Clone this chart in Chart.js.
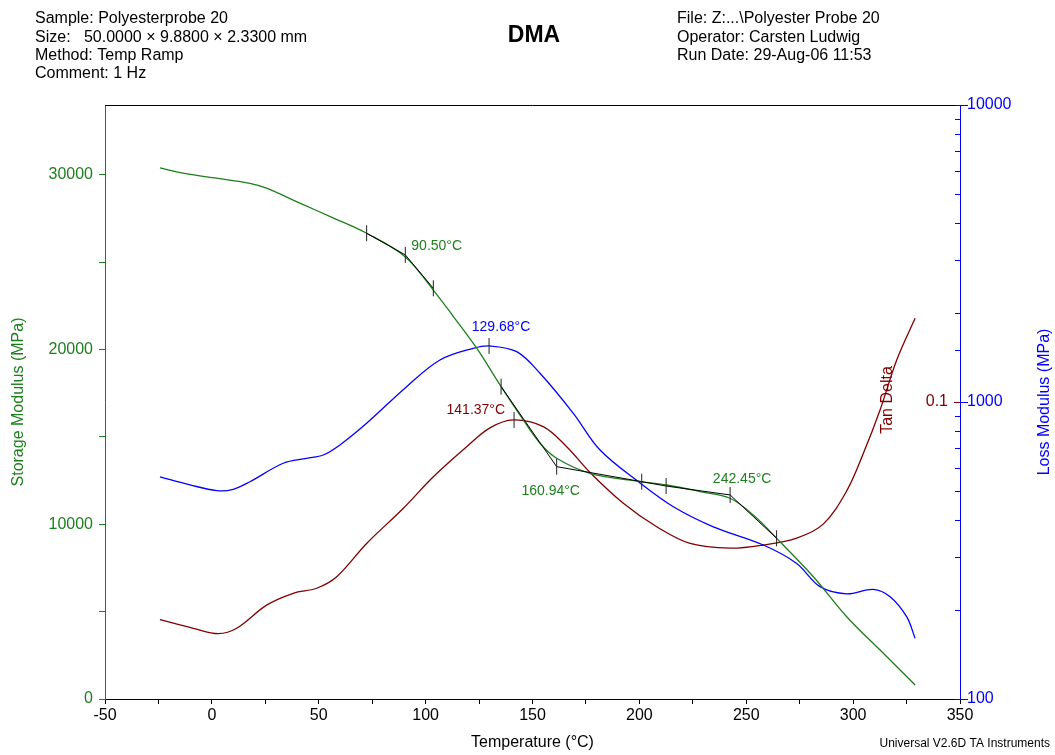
<!DOCTYPE html>
<html lang="en">
<head>
<meta charset="UTF-8">
<title>DMA</title>
<style>
    body { margin: 0; background: #fff; }
    #chart-container { width: 1055px; height: 755px; }
</style>
</head>
<body>
<div id="chart-container">
    <canvas id="dmaChart"></canvas>
</div>

<script src="https://cdn.jsdelivr.net/npm/chart.js"></script>
<script>
// Storage modulus (left axis, MPa)
const storageT = [-24.3, -13.5, 2.2, 17.8, 25.6, 41.2, 56.7, 72.4, 90.4, 103.5, 113, 123.9, 134.8, 145.7, 153.5, 161.3, 176.9, 200.3, 212.8, 228.4, 242.4, 253.3, 265.8, 281.4, 297.0, 312.6, 329.0];
const storageMPa = [30400, 30100, 29810, 29520, 29240, 28380, 27540, 26660, 25320, 23420, 21890, 20080, 17980, 15970, 14640, 13780, 12920, 12440, 12250, 11870, 11490, 10530, 9000, 7000, 4710, 2800, 800];

// Loss modulus (right log axis, MPa)
const lossT = [-24.3, -10.2, 2.3, 10.0, 17.8, 33.4, 44.3, 52.1, 59.9, 72.4, 91.1, 106.7, 122.3, 130.1, 142.6, 153.5, 169.1, 181.6, 200.3, 215.9, 234.6, 258.0, 273.6, 284.5, 297.0, 309.4, 317.3, 325.1, 329.0];
const lossMPa = [560, 526, 503, 508, 539, 622, 646, 663, 717, 848, 1126, 1385, 1516, 1544, 1477, 1250, 916, 689, 534, 444, 380, 330, 286, 239, 226, 234, 221, 189, 160];

// Tan delta (log axis, 0.01 - 1)
const tanT = [-24.3, -8.7, 3.0, 11.6, 25.6, 38.1, 49.0, 58.4, 72.4, 89.6, 103.6, 119.2, 130.1, 141.0, 155.0, 166.0, 176.9, 192.5, 208.1, 223.7, 242.4, 258.0, 273.6, 286.0, 297.0, 304.8, 312.6, 320.4, 329.0];
const tanDelta = [0.0185, 0.0173, 0.0166, 0.0173, 0.0207, 0.0227, 0.0236, 0.0258, 0.0334, 0.0439, 0.0560, 0.0707, 0.0818, 0.0870, 0.0826, 0.0707, 0.0579, 0.0456, 0.0380, 0.0334, 0.0322, 0.0330, 0.0348, 0.0388, 0.0502, 0.0672, 0.0940, 0.1385, 0.1913];

// onset tangent constructions on the storage curve
const onset1T = [72.4, 90.5, 103.6];
const onset1MPa = [26660, 25420, 23510];
const onset2T = [135.3, 161.3, 201.1, 212.5, 242.45, 264.2];
const onset2MPa = [17880, 13300, 12440, 12190, 11680, 9200];

// peak markers
const lossPeakT = 129.68, lossPeakMPa = 1544;
const tanPeakT = 141.37, tanPeakVal = 0.087;

// axis ticks and tick labels
const xLabels = [-50, 0, 50, 100, 150, 200, 250, 300, 350];
const storageTicks = [0, 5000, 10000, 15000, 20000, 25000, 30000];
const storageLabels = [0, 10000, 20000, 30000];
const lossLabels = [100, 1000, 10000];

const headerLeft = ['Sample: Polyesterprobe 20', 'Size:   50.0000 \u00d7 9.8800 \u00d7 2.3300 mm', 'Method: Temp Ramp', 'Comment: 1 Hz'];
const headerRight = ['File: Z:...\\Polyester Probe 20', 'Operator: Carsten Ludwig', 'Run Date: 29-Aug-06 11:53'];

const GREEN = '#1c7f1c';
const BLUE = '#0000ff';
const RED = '#800000';
const FONT = '"Liberation Sans", Arial, sans-serif';

const pts = (xs, ys) => xs.map((x, i) => ({ x: x, y: ys[i] }));

// texts, frame and inner ticks that Chart.js has no option for
const dmaText = {
    id: 'dmaText',
    afterDraw(chart) {
        const ctx = chart.ctx;
        const area = chart.chartArea;
        const sx = chart.scales.x;
        const ys = chart.scales.yStorage;
        const yl = chart.scales.yLoss;
        const yt = chart.scales.yTan;
        ctx.save();

        // top frame line
        ctx.strokeStyle = '#000';
        ctx.lineWidth = 1;
        ctx.beginPath();
        ctx.moveTo(area.left, area.top + 0.5);
        ctx.lineTo(area.right, area.top + 0.5);
        ctx.stroke();

        // loss modulus ticks: minor ones inside, decades across the axis
        ctx.strokeStyle = BLUE;
        yl.ticks.forEach((t) => {
            const py = Math.round(yl.getPixelForValue(t.value)) + 0.5;
            const major = lossLabels.includes(t.value);
            ctx.beginPath();
            ctx.moveTo(area.right - 5, py);
            ctx.lineTo(area.right + (major ? 8 : 1), py);
            ctx.stroke();
        });

        // header
        ctx.fillStyle = '#000';
        ctx.font = '16px ' + FONT;
        ctx.textBaseline = 'middle';
        ctx.textAlign = 'left';
        headerLeft.forEach((t, i) => ctx.fillText(t, 35, 19 + i * 18.3));
        headerRight.forEach((t, i) => ctx.fillText(t, 677, 19 + i * 18.3));
        ctx.font = 'bold 23px ' + FONT;
        ctx.textAlign = 'center';
        ctx.fillText('DMA', 534, 36);

        // footer
        ctx.font = '12px ' + FONT;
        ctx.textAlign = 'right';
        ctx.fillText('Universal V2.6D TA Instruments', 1050, 744);

        // right axis title, reading upwards
        ctx.save();
        ctx.translate(1045, (area.top + area.bottom) / 2);
        ctx.rotate(-Math.PI / 2);
        ctx.fillStyle = BLUE;
        ctx.font = '16px ' + FONT;
        ctx.textAlign = 'center';
        ctx.fillText('Loss Modulus (MPa)', 0, 0);
        ctx.restore();

        // tan delta axis: 0.1 label and its title
        const y01 = yt.getPixelForValue(0.1);
        ctx.strokeStyle = RED;
        ctx.beginPath();
        ctx.moveTo(area.right - 6, Math.round(y01) + 0.5);
        ctx.lineTo(area.right, Math.round(y01) + 0.5);
        ctx.stroke();
        ctx.fillStyle = RED;
        ctx.font = '16px ' + FONT;
        ctx.textAlign = 'right';
        ctx.fillText('0.1', area.right - 12, y01);
        ctx.save();
        ctx.translate(area.right - 72, y01 - 2);
        ctx.rotate(-Math.PI / 2);
        ctx.textAlign = 'center';
        ctx.fillText('Tan Delta', 0, 0);
        ctx.restore();

        // peak / onset labels
        ctx.font = '14px ' + FONT;
        const lab = (text, color, px, py, align) => {
            ctx.fillStyle = color;
            ctx.textAlign = align;
            ctx.fillText(text, px, py);
        };
        lab('90.50\u00b0C', GREEN, sx.getPixelForValue(onset1T[1]) + 6, ys.getPixelForValue(onset1MPa[1]) - 9, 'left');
        lab('129.68\u00b0C', BLUE, sx.getPixelForValue(lossPeakT) + 12, yl.getPixelForValue(lossPeakMPa) - 19, 'center');
        lab('141.37\u00b0C', RED, sx.getPixelForValue(tanPeakT) - 9, yt.getPixelForValue(tanPeakVal) - 10, 'right');
        lab('160.94\u00b0C', GREEN, sx.getPixelForValue(onset2T[1]) - 6, ys.getPixelForValue(onset2MPa[1]) + 24, 'center');
        lab('242.45\u00b0C', GREEN, sx.getPixelForValue(onset2T[4]) + 12, ys.getPixelForValue(onset2MPa[4]) - 16, 'center');

        ctx.restore();
    }
};

const tickMarkStyle = {
    showLine: false,
    pointStyle: 'line',
    pointRotation: 90,
    pointRadius: 8,
    pointHoverRadius: 8,
    pointBorderColor: '#222',
    pointBorderWidth: 1
};

const ctx = document.getElementById('dmaChart').getContext('2d');
const dmaChart = new Chart(ctx, {
    type: 'line',
    data: {
        datasets: [
            Object.assign({ data: pts(onset1T, onset1MPa).concat(pts(onset2T, onset2MPa)), yAxisID: 'yStorage' }, tickMarkStyle),
            Object.assign({ data: [{ x: lossPeakT, y: lossPeakMPa }], yAxisID: 'yLoss' }, tickMarkStyle),
            Object.assign({ data: [{ x: tanPeakT, y: tanPeakVal }], yAxisID: 'yTan' }, tickMarkStyle),
            {
                data: pts(onset1T, onset1MPa), yAxisID: 'yStorage',
                borderColor: '#000', borderWidth: 1, pointRadius: 0, tension: 0
            },
            {
                data: pts(onset2T, onset2MPa), yAxisID: 'yStorage',
                borderColor: '#000', borderWidth: 1, pointRadius: 0, tension: 0
            },
            {
                label: 'Storage Modulus', data: pts(storageT, storageMPa), yAxisID: 'yStorage',
                borderColor: GREEN, borderWidth: 1.3, pointRadius: 0, tension: 0.35
            },
            {
                label: 'Loss Modulus', data: pts(lossT, lossMPa), yAxisID: 'yLoss',
                borderColor: BLUE, borderWidth: 1.3, pointRadius: 0, tension: 0.35
            },
            {
                label: 'Tan Delta', data: pts(tanT, tanDelta), yAxisID: 'yTan',
                borderColor: RED, borderWidth: 1.3, pointRadius: 0, tension: 0.35
            }
        ]
    },
    options: {
        responsive: true,
        maintainAspectRatio: false,
        animation: false,
        layout: { padding: { top: 105, left: 0, right: 0, bottom: 0 } },
        plugins: {
            legend: { display: false },
            tooltip: { enabled: false }
        },
        scales: {
            x: {
                type: 'linear',
                min: -50, max: 350,
                afterFit: (s) => { s.height = 56; },
                border: { color: '#000' },
                grid: { drawOnChartArea: false, tickLength: 5, color: '#000' },
                ticks: {
                    stepSize: 25, autoSkip: false, maxRotation: 0, padding: 2,
                    color: '#000', font: { family: FONT, size: 16 },
                    callback: (v) => xLabels.includes(v) ? String(v) : ''
                },
                title: {
                    display: true, text: 'Temperature (\u00b0C)', color: '#000',
                    font: { family: FONT, size: 16 }, padding: { top: 0, bottom: 3 }
                }
            },
            yStorage: {
                type: 'linear', position: 'left',
                min: 0, max: 34000,
                afterFit: (s) => { s.width = 105; },
                afterBuildTicks: (s) => { s.ticks = storageTicks.map((v) => ({ value: v })); },
                border: { color: GREEN },
                grid: { drawOnChartArea: false, tickLength: 6, color: GREEN },
                ticks: {
                    autoSkip: false, padding: 6,
                    color: GREEN, font: { family: FONT, size: 16 },
                    callback: (v) => storageLabels.includes(v) ? String(v) : ''
                },
                title: {
                    display: true, text: 'Storage Modulus (MPa)', color: GREEN,
                    font: { family: FONT, size: 16 }, padding: { top: 9, bottom: 0 }
                }
            },
            yLoss: {
                type: 'logarithmic', position: 'right',
                min: 100, max: 10000,
                afterFit: (s) => { s.width = 95; },
                border: { color: BLUE },
                grid: { drawOnChartArea: false, drawTicks: false },
                ticks: {
                    autoSkip: false, padding: 7,
                    color: BLUE, font: { family: FONT, size: 16 },
                    callback: (v) => lossLabels.includes(v) ? String(v) : ''
                }
            },
            yTan: {
                type: 'logarithmic', position: 'right',
                min: 0.01, max: 1,
                display: false
            }
        }
    },
    plugins: [dmaText]
});
</script>
</body>
</html>
